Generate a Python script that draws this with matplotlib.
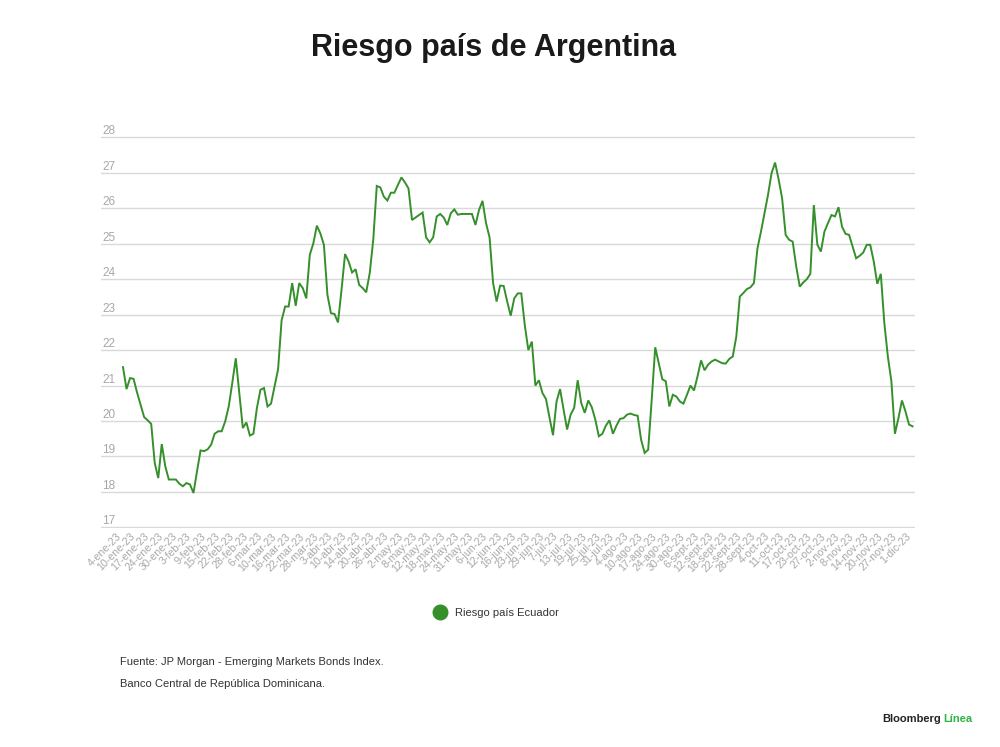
import matplotlib
matplotlib.use("Agg")
import matplotlib.pyplot as plt
from matplotlib.lines import Line2D

plt.rcParams['font.family'] = ['Liberation Sans', 'DejaVu Sans']

# riesgo pais, one value per trading day
valores = [21.52, 20.90, 21.21, 21.19, 20.80, 20.45, 20.11, 20.02, 19.92, 18.82,
           18.39, 19.35, 18.72, 18.35, 18.35, 18.35, 18.23, 18.16, 18.25, 18.21,
           17.97, 18.58, 19.17, 19.15, 19.20, 19.33, 19.64, 19.71, 19.71, 19.99,
           20.41, 21.07, 21.77, 20.79, 19.80, 19.96, 19.59, 19.64, 20.37, 20.88,
           20.93, 20.41, 20.49, 20.98, 21.46, 22.84, 23.23, 23.23, 23.89, 23.25,
           23.89, 23.75, 23.46, 24.69, 25.01, 25.51, 25.29, 24.97, 23.56, 23.04,
           23.02, 22.78, 23.70, 24.71, 24.50, 24.19, 24.28, 23.84, 23.75, 23.63,
           24.17, 25.11, 26.63, 26.59, 26.33, 26.22, 26.44, 26.44, 26.66, 26.87,
           26.73, 26.56, 25.67, 25.74, 25.81, 25.88, 25.18, 25.04, 25.18, 25.77,
           25.84, 25.74, 25.53, 25.86, 25.97, 25.82, 25.84, 25.84, 25.84, 25.84,
           25.53, 25.95, 26.21, 25.58, 25.18, 23.89, 23.37, 23.82, 23.81, 23.37,
           22.97, 23.46, 23.60, 23.60, 22.70, 22.00, 22.24, 21.00, 21.15, 20.79,
           20.62, 20.10, 19.60, 20.55, 20.90, 20.32, 19.76, 20.18, 20.37, 21.15,
           20.51, 20.23, 20.58, 20.39, 20.04, 19.57, 19.64, 19.87, 20.02, 19.64,
           19.87, 20.06, 20.08, 20.18, 20.21, 20.17, 20.15, 19.47, 19.10, 19.19,
           20.60, 22.08, 21.63, 21.18, 21.12, 20.41, 20.74, 20.69, 20.55, 20.49,
           20.74, 21.00, 20.86, 21.26, 21.71, 21.43, 21.59, 21.68, 21.73, 21.68,
           21.63, 21.62, 21.75, 21.82, 22.38, 23.51, 23.61, 23.72, 23.77, 23.89,
           24.87, 25.34, 25.86, 26.38, 26.99, 27.29, 26.82, 26.28, 25.25, 25.11,
           25.06, 24.36, 23.79, 23.91, 24.00, 24.15, 26.09, 24.97, 24.78, 25.34,
           25.58, 25.81, 25.77, 26.03, 25.48, 25.28, 25.25, 24.92, 24.59, 24.66,
           24.75, 24.97, 24.97, 24.50, 23.87, 24.15, 22.76, 21.82, 21.12, 19.64,
           20.08, 20.58, 20.27, 19.90, 19.85]

# one label every 4 points
etiquetas = ["4-ene-23", "10-ene-23", "17-ene-23", "24-ene-23", "30-ene-23",
             "3-feb-23", "9-feb-23", "15-feb-23", "22-feb-23", "28-feb-23",
             "6-mar-23", "10-mar-23", "16-mar-23", "22-mar-23", "28-mar-23",
             "3-abr-23", "10-abr-23", "14-abr-23", "20-abr-23", "26-abr-23",
             "2-may-23", "8-may-23", "12-may-23", "18-may-23", "24-may-23", "31-may-23",
             "6-jun-23", "12-jun-23", "16-jun-23", "23-jun-23", "29-jun-23",
             "7-jul-23", "13-jul-23", "19-jul-23", "25-jul-23", "31-jul-23",
             "4-ago-23", "10-ago-23", "17-ago-23", "24-ago-23", "30-ago-23",
             "6-sept-23", "12-sept-23", "18-sept-23", "22-sept-23", "28-sept-23",
             "4-oct-23", "11-oct-23", "17-oct-23", "23-oct-23", "27-oct-23",
             "2-nov-23", "8-nov-23", "14-nov-23", "20-nov-23", "27-nov-23",
             "1-dic-23"]

y_ticks = list(range(17, 29))
serie = "Riesgo país Ecuador"
verde = '#35902c'
gris = '#a8a8a8'

fig = plt.figure(figsize=(10, 7.47), dpi=100)
fig.patch.set_facecolor('white')
ax = fig.add_axes([0.101, 0.2926, 0.814, 0.5249])

x = list(range(len(valores)))
ax.plot(x, valores, color=verde, lw=1.4, solid_joinstyle='miter', zorder=3)

ax.set_xlim(-6.24, len(valores) - 1 + 0.7)
ax.set_ylim(16.97, 28.03)

ax.set_yticks(y_ticks)
ax.set_yticklabels([str(v) for v in y_ticks])
ax.tick_params(axis='y', length=0, pad=-1, labelsize=8.5, labelcolor=gris)
for lbl in ax.get_yticklabels():
    lbl.set_horizontalalignment('left')
    lbl.set_verticalalignment('bottom')

ax.set_xticks(x[::4])
ax.set_xticklabels(etiquetas, rotation=45, ha='right', fontsize=7.7, color=gris)
ax.tick_params(axis='x', length=0, pad=2)

ax.grid(axis='y', color='#d9d9d9', lw=1)
ax.set_axisbelow(True)
for s in ax.spines.values():
    s.set_visible(False)

fig.text(0.4937, 0.936, "Riesgo país de Argentina", ha='center', va='center',
         fontsize=22, fontweight='bold', color='#1a1a1a')

marca = Line2D([0], [0], marker='o', ls='', markerfacecolor=verde,
               markeredgecolor=verde, markersize=10.5)
fig.legend(handles=[marca], labels=[serie], loc='center',
           bbox_to_anchor=(0.494, 1 - 613 / 747), frameon=False,
           handletextpad=0.4, fontsize=8, labelcolor='#333333')

fig.text(0.12, 1 - 662 / 747, "Fuente: JP Morgan - Emerging Markets Bonds Index.",
         ha='left', va='center', fontsize=8, color='#333333')
fig.text(0.12, 1 - 684 / 747, "Banco Central de República Dominicana.",
         ha='left', va='center', fontsize=8, color='#333333')

fig.text(0.941, 1 - 719 / 747, "Bloomberg", ha='right', va='center',
         fontsize=8, fontweight='bold', color='#222222')
fig.text(0.943, 1 - 719 / 747, "Línea", ha='left', va='center',
         fontsize=8, fontweight='bold', color='#2fb344')

fig.savefig("out.png", dpi=100, facecolor='white')
